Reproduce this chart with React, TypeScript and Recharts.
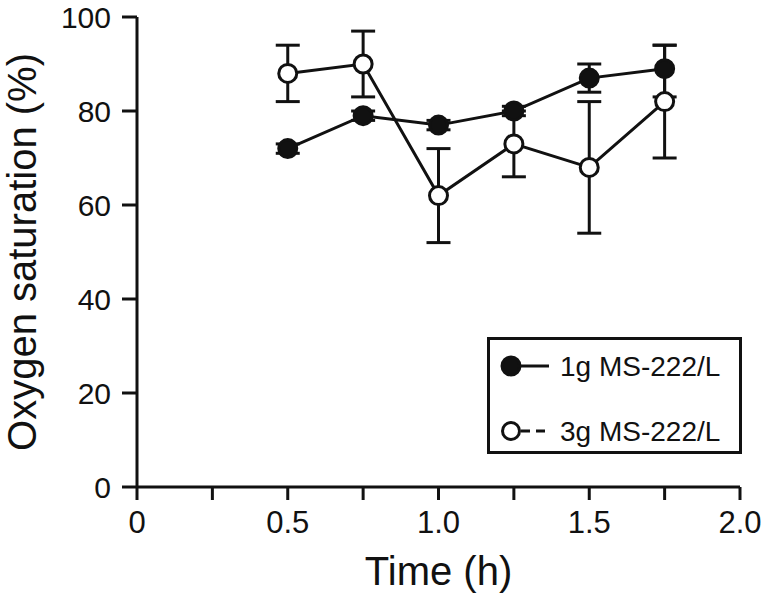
import { LineChart, Line, XAxis, YAxis, ErrorBar } from 'recharts';

const FONT = '"Liberation Sans", Arial, sans-serif';
const INK = '#111';

const times = [0.5, 0.75, 1.0, 1.25, 1.5, 1.75];
const lowDose = [72, 79, 77, 80, 87, 89];
// [below, above]
const lowDoseErr = [[1, 1], [1, 1], [1, 1], [1, 1], [3, 3], [6, 5]];
const highDose = [88, 90, 62, 73, 68, 82];
const highDoseErr = [6, 7, 10, 7, 14, 12];

const xTicks = [0, 0.25, 0.5, 0.75, 1.0, 1.25, 1.5, 1.75, 2.0];
const xTickLabels: Record<string, string> = { '0': '0', '0.5': '0.5', '1': '1.0', '1.5': '1.5', '2': '2.0' };
const yTicks = [0, 20, 40, 60, 80, 100];

const data = times.map((t, i) => ({
  t,
  low: lowDose[i],
  lowErr: lowDoseErr[i],
  high: highDose[i],
  highErr: highDoseErr[i],
}));

function YTitle(props: any) {
  const vb = props.viewBox || { x: 0, y: 17, width: 137, height: 470 };
  const cx = 22;
  const cy = vb.y + vb.height / 2;
  return (
    <text
      x={cx}
      y={cy}
      transform={`rotate(-90, ${cx}, ${cy})`}
      textAnchor="middle"
      dominantBaseline="central"
      fontFamily={FONT}
      fontSize={40}
      fill={INK}
    >
      Oxygen saturation (%)
    </text>
  );
}

function ChartLegend() {
  return (
    <svg width={256} height={118} style={{ position: 'absolute', left: 487, top: 337 }}>
      <rect x={1.5} y={1.5} width={252} height={114} fill="#fff" stroke={INK} strokeWidth={3} />
      <circle cx={24} cy={29} r={9} fill={INK} stroke={INK} strokeWidth={3} />
      <line x1={30} y1={29} x2={62} y2={29} stroke={INK} strokeWidth={3} />
      <text x={73} y={29} dy="0.36em" fontFamily={FONT} fontSize={28} fill={INK}>1g MS-222/L</text>
      <circle cx={24} cy={94} r={8.5} fill="#fff" stroke={INK} strokeWidth={3} />
      <line x1={34} y1={94} x2={62} y2={94} stroke={INK} strokeWidth={3} strokeDasharray="9 6" />
      <text x={73} y={94} dy="0.36em" fontFamily={FONT} fontSize={28} fill={INK}>3g MS-222/L</text>
    </svg>
  );
}

export default function App() {
  return (
    <div style={{ position: 'relative', width: 768, height: 606, background: '#fff' }}>
      <style>{`body{margin:0}`}</style>
      <LineChart width={768} height={606} data={data} margin={{ top: 17, right: 28, left: 0, bottom: 59 }}>
        <XAxis
          type="number"
          dataKey="t"
          domain={[0, 2]}
          ticks={xTicks}
          interval={0}
          tickFormatter={(v: number) => xTickLabels[String(v)] ?? ''}
          tickSize={13}
          tickMargin={11}
          height={60}
          axisLine={{ stroke: INK, strokeWidth: 3 }}
          tickLine={{ stroke: INK, strokeWidth: 3 }}
          tick={{ fill: INK, fontSize: 31, fontFamily: FONT }}
          label={{ value: 'Time (h)', position: 'bottom', offset: 10, fill: INK, fontSize: 40, fontFamily: FONT }}
        />
        <YAxis
          type="number"
          domain={[0, 100]}
          ticks={yTicks}
          interval={0}
          width={137}
          tickSize={15}
          tickMargin={11}
          axisLine={{ stroke: INK, strokeWidth: 3 }}
          tickLine={{ stroke: INK, strokeWidth: 3 }}
          tick={{ fill: INK, fontSize: 30, fontFamily: FONT }}
          label={<YTitle />}
        />
        <Line
          dataKey="low"
          stroke={INK}
          strokeWidth={3}
          dot={{ r: 9, fill: INK, stroke: INK, strokeWidth: 3 }}
          isAnimationActive={false}
        >
          <ErrorBar dataKey="lowErr" direction="y" width={12} stroke={INK} strokeWidth={3} />
        </Line>
        <Line
          dataKey="high"
          stroke={INK}
          strokeWidth={3}
          dot={{ r: 9, fill: '#fff', stroke: INK, strokeWidth: 3 }}
          isAnimationActive={false}
        >
          <ErrorBar dataKey="highErr" direction="y" width={12} stroke={INK} strokeWidth={3} />
        </Line>
      </LineChart>
      <ChartLegend />
    </div>
  );
}
